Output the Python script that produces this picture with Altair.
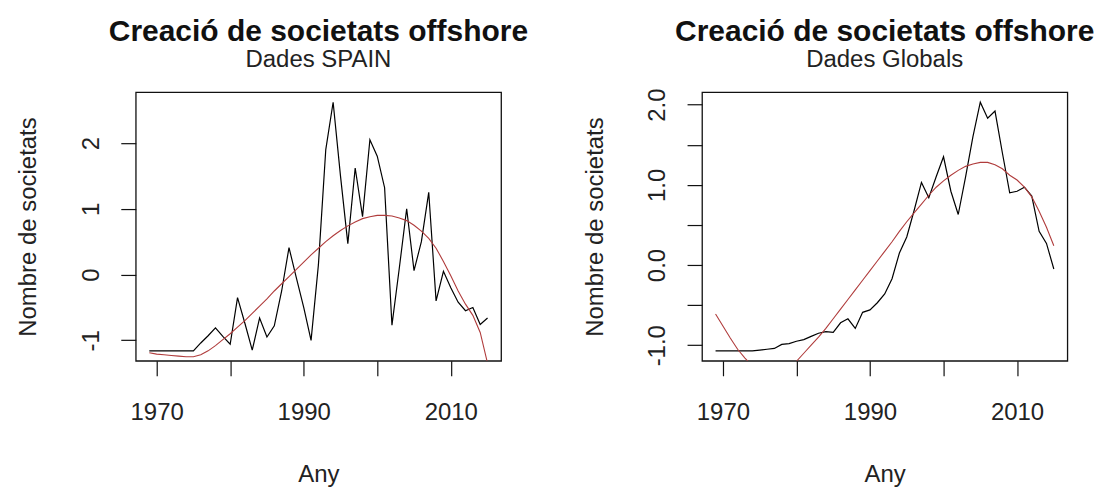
import altair as alt
import pandas as pd

# Years covered by both series
years = list(range(1969, 2016))

# Standardised yearly count of offshore companies, Spain
spain_values = [
    -1.16, -1.16, -1.16, -1.16, -1.16, -1.16, -1.16,
    -1.04, -0.93, -0.81, -0.94, -1.06, -0.35, -0.74, -1.15, -0.66, -0.95,
    -0.78, -0.25, 0.41, -0.05, -0.50, -1.00, 0.15, 1.90, 2.62, 1.50,
    0.47, 1.62, 0.88, 2.05, 1.80, 1.32, -0.77, 0.10, 1.00, 0.06,
    0.50, 1.25, -0.40, 0.05, -0.20, -0.42, -0.55, -0.50, -0.76, -0.66,
]
# Fitted trend, Spain
spain_fit = [
    -1.19, -1.21, -1.22, -1.23, -1.24, -1.25, -1.25,
    -1.22, -1.16, -1.08, -0.99, -0.90, -0.80, -0.70, -0.59, -0.48, -0.37,
    -0.25, -0.14, -0.03, 0.08, 0.19, 0.30, 0.40, 0.50, 0.59, 0.67,
    0.74, 0.80, 0.85, 0.88, 0.90, 0.90, 0.89, 0.86, 0.82, 0.75,
    0.66, 0.55, 0.40, 0.20, -0.02, -0.25, -0.45, -0.62, -0.88, -1.35,
]
# Standardised yearly count of offshore companies, all countries
global_values = [
    -1.07, -1.07, -1.07, -1.07, -1.07, -1.07, -1.06,
    -1.05, -1.04, -0.99, -0.98, -0.95, -0.93, -0.89, -0.85, -0.83, -0.84,
    -0.72, -0.67, -0.79, -0.59, -0.56, -0.47, -0.36, -0.17, 0.15, 0.35,
    0.68, 1.03, 0.84, 1.10, 1.35, 0.92, 0.63, 1.10, 1.60, 2.03,
    1.83, 1.92, 1.40, 0.90, 0.92, 0.97, 0.86, 0.42, 0.27, -0.05,
]
# Fitted trend, all countries
global_fit = [
    -0.61, -0.76, -0.91, -1.05, -1.16, -1.26, -1.33,
    -1.38, -1.40, -1.38, -1.30, -1.20, -1.10, -1.00, -0.90, -0.79, -0.67,
    -0.55, -0.43, -0.31, -0.19, -0.07, 0.05, 0.17, 0.29, 0.42, 0.54,
    0.65, 0.76, 0.87, 0.97, 1.05, 1.12, 1.18, 1.23, 1.26, 1.28,
    1.28, 1.25, 1.20, 1.12, 1.06, 0.97, 0.85, 0.67, 0.47, 0.24,
]

main_title = "Creació de societats offshore"
subtitles = ["Dades SPAIN", "Dades Globals"]
x_title = "Any"
y_title = "Nombre de societats"
x_ticks = [1970, 1980, 1990, 2000, 2010]
spain_y_ticks = [-1, 0, 1, 2]
global_y_ticks = [-1.0, -0.5, 0.0, 0.5, 1.0, 1.5, 2.0]

FONT = "Liberation Sans"
TEXT = "#222222"
W, H = 366, 269
FIT_COLOR = "#b03c3c"


def padded_range(vals):
    # base-R style axis range: data range widened by 4% on each side
    lo, hi = min(vals), max(vals)
    d = (hi - lo) * 0.04
    return [lo - d, hi + d]


def panel(values, fit, subtitle, y_ticks, y_label_expr):
    df = pd.DataFrame({
        "Any": years * 2,
        "valor": values + fit,
        "serie": ["dades"] * len(years) + ["ajust"] * len(years),
    })
    x = alt.X(
        "Any:Q",
        scale=alt.Scale(domain=padded_range(years), nice=False, zero=False),
        axis=alt.Axis(
            values=x_ticks,
            labelExpr="datum.value % 20 == 10 ? '' + datum.value : ''",
            labelFlush=False,
            labelOverlap=False,
            labelPadding=44,
            labelBaseline="alphabetic",
            title=x_title,
            titleX=W / 2,
            titleY=120.5,
            titleAlign="center",
            titleBaseline="alphabetic",
        ),
    )
    y = alt.Y(
        "valor:Q",
        scale=alt.Scale(domain=padded_range(values), nice=False, zero=False),
        axis=alt.Axis(
            values=y_ticks,
            labelExpr=y_label_expr,
            labelAngle=-90,
            labelAlign="center",
            labelBaseline="alphabetic",
            labelPadding=22.5,
            labelOverlap=False,
            labelFlush=False,
            title=y_title,
            titleAngle=270,
            titleX=-100,
            titleY=H / 2,
            titleAlign="center",
            titleBaseline="alphabetic",
        ),
    )
    base = alt.Chart(df).encode(x=x, y=y)
    data_line = base.transform_filter("datum.serie == 'dades'").mark_line(
        color="black", strokeWidth=1.2, clip=True
    )
    fit_line = base.transform_filter("datum.serie == 'ajust'").mark_line(
        color=FIT_COLOR, strokeWidth=1.1, clip=True
    )
    head = alt.Chart(pd.DataFrame({"t": [main_title]})).mark_text(
        font=FONT, fontSize=30, fontWeight="bold", color="#111111",
        align="center", baseline="alphabetic",
    ).encode(x=alt.value(W / 2), y=alt.value(-51), text="t:N")
    sub = alt.Chart(pd.DataFrame({"t": [subtitle]})).mark_text(
        font=FONT, fontSize=24, color=TEXT,
        align="center", baseline="alphabetic",
    ).encode(x=alt.value(W / 2), y=alt.value(-25.5), text="t:N")
    return alt.layer(data_line, fit_line, head, sub).properties(width=W, height=H)


left = panel(
    spain_values, spain_fit, subtitles[0], spain_y_ticks,
    "(datum.value < 0 ? '-' : '') + format(abs(datum.value), 'd')",
)
right = panel(
    global_values, global_fit, subtitles[1], global_y_ticks,
    "abs(datum.value % 1) < 0.01 ? (datum.value < 0 ? '-' : '') + format(abs(datum.value), '.1f') : ''",
)

chart = (
    alt.hconcat(left, right, spacing=201.3, bounds="flush")
    .properties(padding={"left": 16, "top": 16, "right": 5, "bottom": 0},
                background="white")
    .configure_view(stroke="#111111", strokeWidth=1.3)
    .configure_axis(
        domain=False,
        grid=False,
        ticks=True,
        tickColor="#111111",
        tickWidth=1.2,
        tickSize=15,
        labelFont=FONT,
        labelFontSize=24,
        labelColor=TEXT,
        titleFont=FONT,
        titleFontSize=24,
        titleFontWeight="normal",
        titleColor=TEXT,
    )
)

chart.save("out.html", embed_options={"renderer": "svg", "actions": False})
